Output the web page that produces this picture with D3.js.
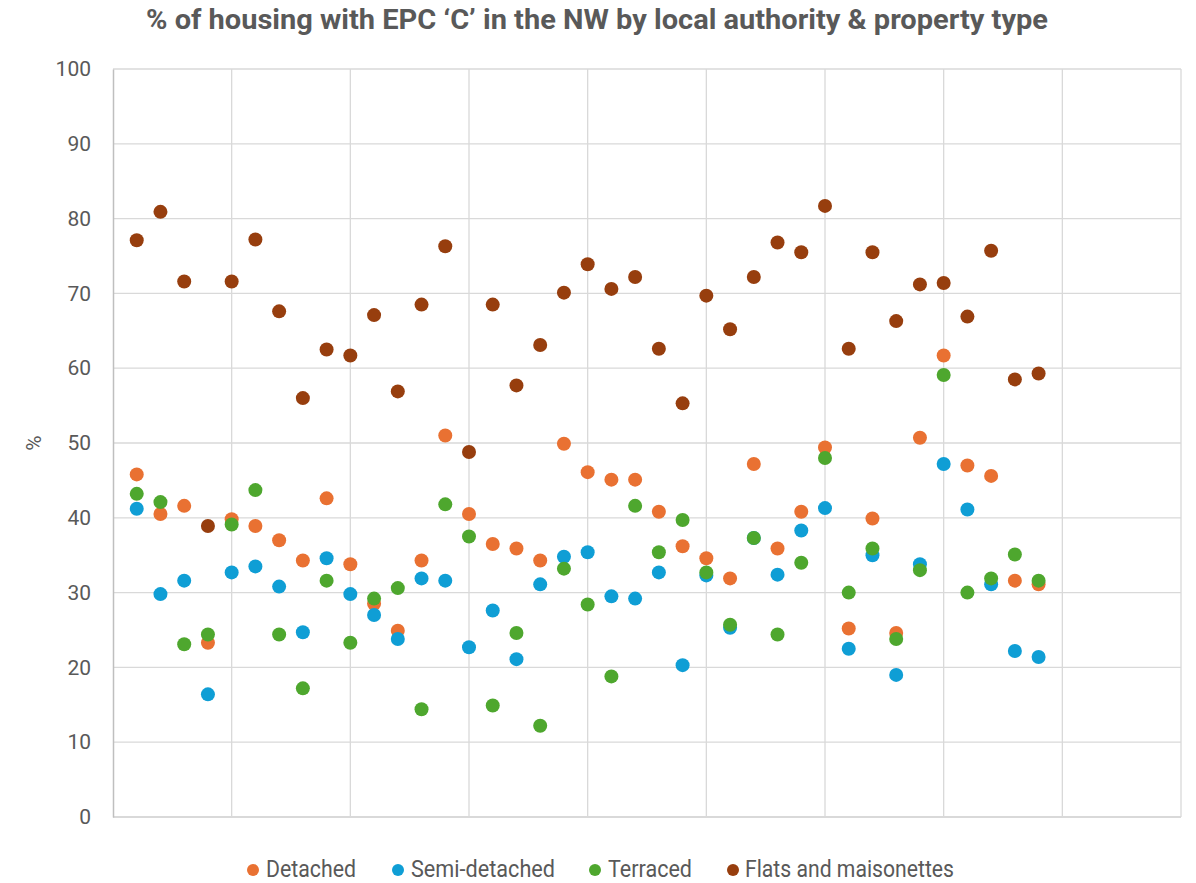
<!DOCTYPE html>
<html>
<head>
<meta charset="utf-8">
<script src="https://cdn.jsdelivr.net/npm/d3@7"></script>
<style>
  html, body { margin: 0; padding: 0; background: #ffffff; }
  svg { display: block; }
</style>
</head>
<body>
<svg id="chart" width="1196" height="883"></svg>
<script>
// ---- data ----
const categories = d3.range(1, 40); // 39 NW local authorities, in chart order
const detached = [45.8, 40.5, 41.6, 23.3, 39.8, 38.9, 37.0, 34.3, 42.6, 33.8,
                  28.5, 24.9, 34.3, 51.0, 40.5, 36.5, 35.9, 34.3, 49.9, 46.1,
                  45.1, 45.1, 40.8, 36.2, 34.6, 31.9, 47.2, 35.9, 40.8, 49.4,
                  25.2, 39.9, 24.6, 50.7, 61.7, 47.0, 45.6, 31.6, 31.1];
const semiDetached = [41.2, 29.8, 31.6, 16.4, 32.7, 33.5, 30.8, 24.7, 34.6, 29.8,
                      27.0, 23.8, 31.9, 31.6, 22.7, 27.6, 21.1, 31.1, 34.8, 35.4,
                      29.5, 29.2, 32.7, 20.3, 32.3, 25.3, 37.3, 32.4, 38.3, 41.3,
                      22.5, 35.0, 19.0, 33.8, 47.2, 41.1, 31.1, 22.2, 21.4];
const terraced = [43.2, 42.1, 23.1, 24.4, 39.1, 43.7, 24.4, 17.2, 31.6, 23.3,
                  29.2, 30.6, 14.4, 41.8, 37.5, 14.9, 24.6, 12.2, 33.2, 28.4,
                  18.8, 41.6, 35.4, 39.7, 32.7, 25.7, 37.3, 24.4, 34.0, 48.0,
                  30.0, 35.9, 23.8, 33.0, 59.1, 30.0, 31.9, 35.1, 31.6];
const flats = [77.1, 80.9, 71.6, 38.9, 71.6, 77.2, 67.6, 56.0, 62.5, 61.7,
               67.1, 56.9, 68.5, 76.3, 48.8, 68.5, 57.7, 63.1, 70.1, 73.9,
               70.6, 72.2, 62.6, 55.3, 69.7, 65.2, 72.2, 76.8, 75.5, 81.7,
               62.6, 75.5, 66.3, 71.2, 71.4, 66.9, 75.7, 58.5, 59.3];
const seriesNames = ["Detached", "Semi-detached", "Terraced", "Flats and maisonettes"];
const yTicks = [0, 10, 20, 30, 40, 50, 60, 70, 80, 90, 100];
const xGrid = [5, 10, 15, 20, 25, 30, 35, 40, 45];
const titleText = "% of housing with EPC \u2018C\u2019 in the NW by local authority & property type";
const yLabel = "%";

// ---- styling ----
const colors = ["#E97132", "#0F9ED5", "#4EA72E", "#973E0E"];
const seriesValues = [detached, semiDetached, terraced, flats];
const textColor = "#595959";
const gridColor = "#d9d9d9";
const font = "Roboto, 'Liberation Sans', sans-serif";

const svg = d3.select("#chart");
const plot = { left: 113, right: 1181, top: 69, bottom: 817 };

const x = d3.scaleLinear().domain([0, 45]).range([plot.left, plot.right]);
const y = d3.scaleLinear().domain([0, 100]).range([plot.bottom, plot.top]);

// horizontal gridlines
svg.append("g").selectAll("line").data(yTicks.filter(d => d > 0)).join("line")
  .attr("x1", plot.left).attr("x2", plot.right)
  .attr("y1", d => y(d)).attr("y2", d => y(d))
  .attr("stroke", gridColor).attr("stroke-width", 1.3);

// vertical gridlines
svg.append("g").selectAll("line").data(xGrid).join("line")
  .attr("x1", d => x(d)).attr("x2", d => x(d))
  .attr("y1", plot.top).attr("y2", plot.bottom)
  .attr("stroke", gridColor).attr("stroke-width", 1.3);

// bottom axis line
svg.append("line")
  .attr("x1", plot.left).attr("x2", plot.right)
  .attr("y1", plot.bottom).attr("y2", plot.bottom)
  .attr("stroke", gridColor).attr("stroke-width", 2);

// left axis (value axis)
const yAxis = d3.axisLeft(y).tickValues(yTicks).tickSize(0).tickPadding(22).tickFormat(d3.format("d"));
const gy = svg.append("g").attr("transform", `translate(${plot.left},0)`).call(yAxis);
gy.select(".domain").attr("stroke", "#bfbfbf").attr("stroke-width", 1.5);
gy.selectAll("text")
  .attr("fill", textColor)
  .style("font-family", font)
  .style("font-size", "21px");

// y label
svg.append("text")
  .attr("transform", `translate(41,${(plot.top + plot.bottom) / 2}) rotate(-90)`)
  .attr("text-anchor", "middle")
  .attr("fill", textColor)
  .style("font-family", font)
  .style("font-size", "21px")
  .text(yLabel);

// points
seriesValues.forEach((vals, si) => {
  svg.append("g").selectAll("circle").data(vals).join("circle")
    .attr("cx", (d, i) => x(categories[i]))
    .attr("cy", d => y(d))
    .attr("r", 7)
    .attr("fill", colors[si]);
});

// title (narrow face emulated by compressing glyphs)
svg.append("text")
  .attr("x", 146).attr("y", 29)
  .attr("fill", textColor)
  .attr("textLength", 902)
  .attr("lengthAdjust", "spacingAndGlyphs")
  .style("font-family", font)
  .style("font-weight", "bold")
  .style("font-size", "27px")
  .text(titleText);

// legend
const legendItems = [
  { name: seriesNames[0], mx: 253, tx: 266, w: 90 },
  { name: seriesNames[1], mx: 398, tx: 411, w: 144 },
  { name: seriesNames[2], mx: 595, tx: 608, w: 84 },
  { name: seriesNames[3], mx: 733, tx: 745, w: 209 }
];
const lg = svg.append("g");
legendItems.forEach((it, i) => {
  lg.append("circle").attr("cx", it.mx).attr("cy", 870).attr("r", 6).attr("fill", colors[i]);
  lg.append("text")
    .attr("x", it.tx).attr("y", 877)
    .attr("fill", textColor)
    .attr("textLength", it.w)
    .attr("lengthAdjust", "spacingAndGlyphs")
    .style("font-family", font)
    .style("font-size", "23px")
    .text(it.name);
});
</script>
</body>
</html>
